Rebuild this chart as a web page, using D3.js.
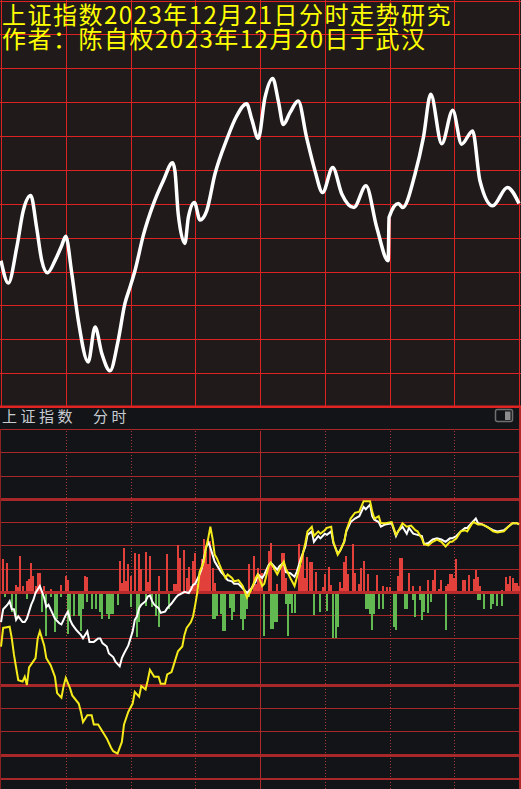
<!DOCTYPE html>
<html>
<head>
<meta charset="utf-8">
<script src="https://cdn.jsdelivr.net/npm/d3@7"></script>
<style>
  body { margin: 0; background: #131417; }
  svg { display: block; }
</style>
</head>
<body>
<div id="chart"></div>
<script>
// Title lines (yellow, top-left)
const titleLines = ["上证指数2023年12月21日分时走势研究", "作者：陈自权2023年12月20日于武汉"];
const panelLabels = ["上证指数", "分时"];

// Hand-drawn forecast curve (top panel): minute of session, level in grid rows
const planMinutes = [0, 3.4, 7.3, 10.3, 13.8, 16.5, 18.9, 21.5, 25, 28.1, 30, 32.8, 35.8, 40.4, 43.6, 46.7, 50.5, 54.3, 57.4, 59.8,
  62.1, 65.9, 70.6, 75.2, 79.5, 80.6, 82.1, 85.2, 86.8, 89.6, 92.2, 95.3, 99.1, 104.6, 109.2, 113.8, 116.2, 119.2, 122.3, 125.9,
  128.5, 130.8, 133.9, 137.7, 141.6, 145.5, 149, 153.7, 157.9, 163.5, 169.1, 174.1, 179.4, 179.8, 184.1, 186.1, 191.8, 195.7, 199.1, 204.2,
  209.3, 213.4, 218.5, 221.9, 227.8, 234.6, 240];
const planLevels = [4.32, 3.66, 4.71, 5.79, 6.24, 5.30, 4.32, 3.96, 4.32, 4.76, 5.04, 3.94, 2.56, 1.33, 2.36, 1.58, 1.07, 1.97, 3.05, 3.54,
  4.03, 5.06, 5.99, 6.68, 7.21, 6.97, 5.70, 4.83, 5.60, 6.04, 5.52, 5.79, 6.87, 7.90, 8.59, 8.95, 8.49, 7.93, 9.13, 9.70,
  9.03, 8.34, 8.69, 9.03, 7.95, 6.97, 6.33, 7.07, 6.29, 5.89, 6.53, 5.30, 4.32, 5.60, 6.01, 5.89, 6.87, 7.95, 9.23, 7.77,
  8.76, 7.76, 8.15, 6.68, 5.94, 6.48, 6.01];

// Actual intraday index (white line), % change
const indexMinutes = [0, 1, 2, 3, 4, 5, 6, 7, 8, 10, 11, 12, 13, 14, 15, 16, 18, 19, 20, 21, 22, 23, 25, 27, 28, 30, 31, 32, 33, 35,
  37, 38, 40, 41, 43, 45, 46, 47, 49, 50, 52, 53, 55, 56, 57, 59, 61, 62, 63, 64, 65, 67, 68, 69, 70, 71, 73, 74, 76, 77,
  79, 81, 82, 84, 85, 87, 88, 89, 90, 92, 93, 94, 95, 96, 97, 98, 99, 101, 102, 104, 105, 107, 108, 110, 112, 114, 116, 118, 119, 121,
  122, 124, 125, 128, 129, 131, 132, 134, 136, 137, 139, 141, 142, 144, 145, 147, 148, 150, 151, 153, 154, 156, 157, 159, 160, 162, 164, 166, 168, 169,
  171, 172, 173, 175, 176, 178, 181, 183, 184, 186, 188, 189, 191, 193, 195, 196, 198, 200, 202, 204, 206, 208, 209, 211, 213, 215, 216, 218, 220, 221,
  223, 225, 226, 228, 230, 233, 235, 237, 239, 240];
const indexPct = [-0.26, -0.15, -0.13, -0.11, -0.08, -0.15, -0.15, -0.24, -0.21, -0.26, -0.26, -0.23, -0.17, -0.11, -0.07, -0.01, 0.05, 0.00, -0.05, -0.13,
  -0.11, -0.15, -0.23, -0.27, -0.28, -0.20, -0.17, -0.24, -0.28, -0.33, -0.37, -0.40, -0.34, -0.43, -0.43, -0.40, -0.40, -0.44, -0.47, -0.53,
  -0.56, -0.60, -0.64, -0.57, -0.53, -0.46, -0.34, -0.24, -0.21, -0.14, -0.11, -0.08, -0.04, -0.03, -0.08, -0.11, -0.14, -0.18, -0.17, -0.14,
  -0.10, -0.05, -0.03, -0.01, 0.00, -0.01, 0.02, 0.06, 0.07, 0.15, 0.20, 0.29, 0.38, 0.43, 0.38, 0.32, 0.26, 0.20, 0.17, 0.13,
  0.10, 0.09, 0.07, 0.07, 0.03, -0.01, 0.03, 0.09, 0.15, 0.12, 0.15, 0.23, 0.25, 0.19, 0.22, 0.25, 0.17, 0.16, 0.13, 0.17,
  0.29, 0.39, 0.49, 0.52, 0.43, 0.48, 0.46, 0.50, 0.49, 0.52, 0.42, 0.33, 0.35, 0.43, 0.52, 0.60, 0.63, 0.65, 0.73, 0.71,
  0.75, 0.65, 0.62, 0.60, 0.56, 0.58, 0.59, 0.48, 0.52, 0.56, 0.50, 0.55, 0.50, 0.49, 0.48, 0.41, 0.42, 0.45, 0.46, 0.45,
  0.43, 0.46, 0.46, 0.48, 0.52, 0.55, 0.55, 0.59, 0.63, 0.59, 0.58, 0.56, 0.55, 0.53, 0.52, 0.53, 0.56, 0.59, 0.59, 0.58];

// Leading (unweighted) index (yellow line), % change
const leadMinutes = [0, 1, 4, 5, 6, 7, 8, 10, 11, 12, 13, 16, 17, 18, 20, 21, 23, 25, 26, 28, 29, 30, 32, 33, 36, 37, 38, 40, 42, 43,
  45, 47, 49, 51, 52, 54, 56, 57, 59, 61, 62, 64, 65, 67, 68, 69, 71, 73, 74, 76, 77, 79, 80, 82, 84, 85, 86, 88, 89, 90,
  91, 92, 94, 95, 96, 97, 98, 99, 100, 102, 104, 105, 107, 108, 110, 112, 114, 116, 118, 119, 121, 122, 124, 125, 128, 129, 131, 132, 134, 136,
  137, 139, 141, 142, 144, 145, 147, 148, 150, 151, 153, 154, 156, 157, 159, 160, 162, 164, 166, 168, 169, 171, 172, 173, 175, 176, 178, 181, 183, 184,
  186, 188, 190, 192, 193, 195, 196, 198, 200, 202, 204, 206, 208, 209, 211, 213, 215, 216, 218, 219, 221, 223, 225, 226, 228, 230, 233, 235, 237, 239, 240];
const leadPct = [-0.47, -0.31, -0.30, -0.40, -0.54, -0.65, -0.76, -0.77, -0.73, -0.80, -0.65, -0.57, -0.40, -0.34, -0.46, -0.57, -0.63, -0.73, -0.87, -0.91,
  -0.81, -0.74, -0.83, -0.89, -0.96, -1.03, -1.12, -1.06, -1.06, -1.14, -1.14, -1.20, -1.26, -1.34, -1.37, -1.39, -1.29, -1.14, -1.03, -0.96,
  -0.86, -0.90, -0.81, -0.84, -0.76, -0.67, -0.73, -0.73, -0.79, -0.79, -0.71, -0.69, -0.63, -0.51, -0.47, -0.37, -0.31, -0.26, -0.21, -0.11,
  0.00, 0.17, 0.26, 0.38, 0.46, 0.56, 0.46, 0.32, 0.29, 0.20, 0.12, 0.15, 0.12, 0.09, 0.10, 0.05, -0.05, 0.02, 0.12, 0.15,
  0.05, 0.07, 0.22, 0.25, 0.15, 0.19, 0.26, 0.20, 0.12, 0.05, 0.12, 0.26, 0.42, 0.52, 0.56, 0.48, 0.52, 0.50, 0.53, 0.55,
  0.56, 0.43, 0.32, 0.35, 0.43, 0.53, 0.63, 0.68, 0.69, 0.78, 0.78, 0.78, 0.69, 0.63, 0.65, 0.59, 0.59, 0.60, 0.49, 0.52,
  0.59, 0.56, 0.57, 0.53, 0.52, 0.46, 0.41, 0.40, 0.43, 0.45, 0.43, 0.39, 0.43, 0.43, 0.46, 0.52, 0.53, 0.52, 0.58, 0.60,
  0.58, 0.58, 0.56, 0.55, 0.52, 0.51, 0.52, 0.56, 0.59, 0.59, 0.58];

// Buy/sell strength bars: positive = red, negative = green
const flowMinutes = [1, 3, 7, 8, 9, 10, 12, 13, 14, 15, 16, 17, 18, 20, 23, 28, 30, 31, 39, 40, 55, 56, 57, 58, 59, 60, 62, 64, 65, 67,
  68, 69, 73, 77, 80, 81, 82, 83, 85, 86, 87, 88, 89, 90, 91, 92, 93, 94, 95, 96, 97, 98, 99, 115, 117, 118, 119, 120, 121, 124,
  125, 128, 130, 131, 132, 138, 139, 140, 141, 142, 143, 144, 146, 149, 150, 152, 153, 157, 158, 159, 160, 161, 163, 164, 166, 167, 168, 170, 174, 177,
  179, 180, 184, 185, 186, 189, 191, 194, 198, 200, 201, 203, 204, 206, 207, 208, 209, 210, 211, 214, 215, 217, 219, 220, 221, 222, 232, 234, 235, 236,
  237, 238, 239, 240,
  2, 5, 7, 12, 19, 21, 23, 25, 26, 28, 31, 32, 34, 36, 37, 38, 40, 42, 44, 46, 47, 49, 50, 51, 52, 54, 60, 63, 64, 67,
  70, 72, 73, 78, 98, 99, 100, 102, 103, 104, 106, 107, 108, 111, 112, 113, 114, 115, 122, 125, 126, 127, 128, 132, 133, 134, 135, 136, 145, 148,
  151, 154, 155, 156, 169, 170, 171, 172, 173, 175, 177, 182, 183, 187, 188, 191, 192, 194, 195, 196, 198, 199, 206, 216, 221, 222, 224, 227, 228, 230,
  232];
const flowValues = [33, 29, 7, 5, 36, 6, 11, 13, 29, 16, 6, 19, 19, 6, 3, 7, 16, 12, 16, 15, 31, 9, 44, 11, 28, 16, 39, 38, 23, 40,
  10, 36, 16, 38, 8, 8, 47, 34, 42, 14, 25, 6, 31, 39, 8, 19, 33, 53, 40, 28, 51, 24, 9, 28, 36, 8, 24, 18, 19, 41,
  49, 8, 39, 39, 14, 48, 27, 38, 14, 35, 30, 30, 20, 5, 18, 25, 7, 10, 4, 30, 36, 18, 48, 19, 8, 24, 31, 18, 17, 6,
  5, 5, 16, 34, 34, 19, 6, 6, 12, 12, 22, 3, 12, 6, 8, 18, 18, 14, 33, 12, 12, 17, 13, 22, 15, 6, 2, 15, 8, 16,
  14, 9, 9, 6,
  -5, -20, -26, -7, -20, -44, -5, -40, -27, -5, -42, -29, -24, -24, -39, -17, -10, -17, -17, -20, -27, -22, -27, -22, -22, -13, -15, -45, -30, -14,
  -15, -24, -35, -17, -27, -27, -24, -22, -39, -39, -16, -28, -20, -27, -38, -27, -17, -5, -44, -37, -37, -30, -30, -12, -44, -12, -21, -21, -23, -20,
  -19, -46, -46, -35, -17, -17, -22, -38, -22, -17, -17, -35, -38, -17, -17, -8, -25, -8, -28, -20, -21, -10, -38, -2, -8, -8, -17, -17, -12, -14,
  -14];

const planRows = d3.range(0, 13);
const pctRows = d3.range(-1.6, 1.41, 0.2).map(v => +v.toFixed(1));
const halfHours = d3.range(0, 241, 30);

const W = 521, H = 789;
const topBottom = 407, headerBottom = 429, plotBottom = 778;

const svg = d3.select("#chart")
  .append("svg")
    .attr("width", W)
    .attr("height", H);

// scales
const x = d3.scaleLinear().domain([0, 240]).range([1, 519]);
const yPlan = d3.scaleLinear().domain([0, 12]).range([topBottom, 0.5]);
const yPct = d3.scaleLinear().domain([-1.6, 1.4]).range([plotBottom, headerBottom]);
const zeroY = yPct(0);
const yFlow = d3.scaleLinear().domain([-60, 60]).range([zeroY + 60, zeroY - 60]);

// ---------- top panel ----------
svg.append("rect")
  .attr("x", 0).attr("y", 0).attr("width", W).attr("height", topBottom)
  .attr("fill", "#201b1a");

const topGrid = svg.append("g").attr("shape-rendering", "crispEdges");
topGrid.selectAll("line.h")
  .data(planRows)
  .join("line")
    .attr("class", "h")
    .attr("x1", 0).attr("x2", W)
    .attr("y1", d => Math.round(yPlan(d)) + 0.5)
    .attr("y2", d => Math.round(yPlan(d)) + 0.5)
    .attr("stroke", "#dc2222")
    .attr("stroke-width", d => d === 0 ? 2 : 1);
topGrid.selectAll("line.v")
  .data(halfHours)
  .join("line")
    .attr("class", "v")
    .attr("x1", d => Math.round(x(d)) + 0.5)
    .attr("x2", d => Math.round(x(d)) + 0.5)
    .attr("y1", 0).attr("y2", topBottom)
    .attr("stroke", "#dc2222");

// titles
svg.append("g")
  .selectAll("text")
  .data(titleLines)
  .join("text")
    .attr("x", 2)
    .attr("y", (d, i) => 24 + i * 24)
    .attr("fill", "#ffff00")
    .style("font-family", "'Noto Sans CJK SC', sans-serif")
    .style("font-size", "24px")
    .style("letter-spacing", "1.5px")
    .text(d => d);

// forecast curve
const planData = planMinutes.map((m, i) => [m, planLevels[i]]);
svg.append("path")
  .datum(planData)
  .attr("d", d3.line()
    .x(d => x(d[0]))
    .y(d => yPlan(d[1]))
    .curve(d3.curveMonotoneX))
  .attr("fill", "none")
  .attr("stroke", "#ffffff")
  .attr("stroke-width", 3.5)
  .attr("stroke-linejoin", "round");

// ---------- bottom panel ----------
svg.append("rect")
  .attr("x", 0).attr("y", topBottom + 1).attr("width", W).attr("height", H - topBottom)
  .attr("fill", "#131417");

// header labels
svg.append("g")
  .selectAll("text")
  .data(panelLabels)
  .join("text")
    .attr("x", (d, i) => i === 0 ? 2 : 93)
    .attr("y", 422)
    .attr("fill", "#c8ccd2")
    .style("font-family", "'Noto Sans CJK SC', sans-serif")
    .style("font-size", "15px")
    .style("letter-spacing", "3.5px")
    .text(d => d);

// little window icon at top right
svg.append("rect")
  .attr("x", 495.5).attr("y", 409.5).attr("width", 17).attr("height", 12).attr("rx", 2)
  .attr("fill", "none").attr("stroke", "#6f6f6f").attr("stroke-width", 1.5);
svg.append("rect")
  .attr("x", 505).attr("y", 411.5).attr("width", 5.5).attr("height", 8.5)
  .attr("fill", "#8c8c8c");

const thickRows = [0.8, 0, -0.8, -1.4];
const botGrid = svg.append("g").attr("shape-rendering", "crispEdges");
botGrid.selectAll("line.h")
  .data(pctRows)
  .join("line")
    .attr("class", "h")
    .attr("x1", 0).attr("x2", W)
    .attr("y1", d => Math.round(yPct(d)) + 0.5)
    .attr("y2", d => Math.round(yPct(d)) + 0.5)
    .attr("stroke", "#a8282a")
    .attr("stroke-width", d => d === 0 ? 3 : thickRows.includes(d) ? 2.5 : (d === -1.6 ? 2 : 1));

// dotted half-hour lines and solid midday line
botGrid.selectAll("line.v")
  .data(halfHours.filter(d => d > 0 && d < 240))
  .join("line")
    .attr("class", "v")
    .attr("x1", d => Math.round(x(d)) + 0.5)
    .attr("x2", d => Math.round(x(d)) + 0.5)
    .attr("y1", headerBottom + 2).attr("y2", H)
    .attr("stroke", d => d === 120 ? "#b02a2c" : "#a83a3a")
    .attr("stroke-width", d => d === 120 ? 1.5 : 1)
    .attr("stroke-dasharray", d => d === 120 ? null : "1,2");

// panel borders
botGrid.append("line")
  .attr("x1", 519.5).attr("x2", 519.5).attr("y1", topBottom).attr("y2", H)
  .attr("stroke", "#b02a2c").attr("stroke-width", 2);
botGrid.append("line")
  .attr("x1", 0.5).attr("x2", 0.5).attr("y1", headerBottom).attr("y2", H)
  .attr("stroke", "#8a2222").attr("stroke-width", 1);

// strength bars
const flowData = flowMinutes.map((m, i) => [m, flowValues[i]]);
svg.append("g")
  .attr("shape-rendering", "crispEdges")
  .selectAll("rect")
  .data(flowData)
  .join("rect")
    .attr("x", d => Math.round(x(d[0])) - 1)
    .attr("width", 2)
    .attr("y", d => d[1] > 0 ? yFlow(d[1]) : zeroY)
    .attr("height", d => Math.abs(yFlow(d[1]) - zeroY))
    .attr("fill", d => d[1] > 0 ? "#e2403b" : "#62b952");

// zero line over bar bases
svg.append("line")
  .attr("x1", 0).attr("x2", W)
  .attr("y1", Math.round(zeroY) + 0.5).attr("y2", Math.round(zeroY) + 0.5)
  .attr("stroke", "#b82a2c").attr("stroke-width", 3)
  .attr("shape-rendering", "crispEdges");

// index lines
const pctLine = d3.line()
  .x(d => x(d[0]))
  .y(d => yPct(d[1]));

svg.append("path")
  .datum(indexMinutes.map((m, i) => [m, indexPct[i]]))
  .attr("d", pctLine)
  .attr("fill", "none")
  .attr("stroke", "#ffffff")
  .attr("stroke-width", 2);

svg.append("path")
  .datum(leadMinutes.map((m, i) => [m, leadPct[i]]))
  .attr("d", pctLine)
  .attr("fill", "none")
  .attr("stroke", "#f5ea1a")
  .attr("stroke-width", 2);

// top panel bottom edge
svg.append("line")
  .attr("x1", 0).attr("x2", W).attr("y1", 406.5).attr("y2", 406.5)
  .attr("stroke", "#e02424").attr("stroke-width", 2);
</script>
</body>
</html>
